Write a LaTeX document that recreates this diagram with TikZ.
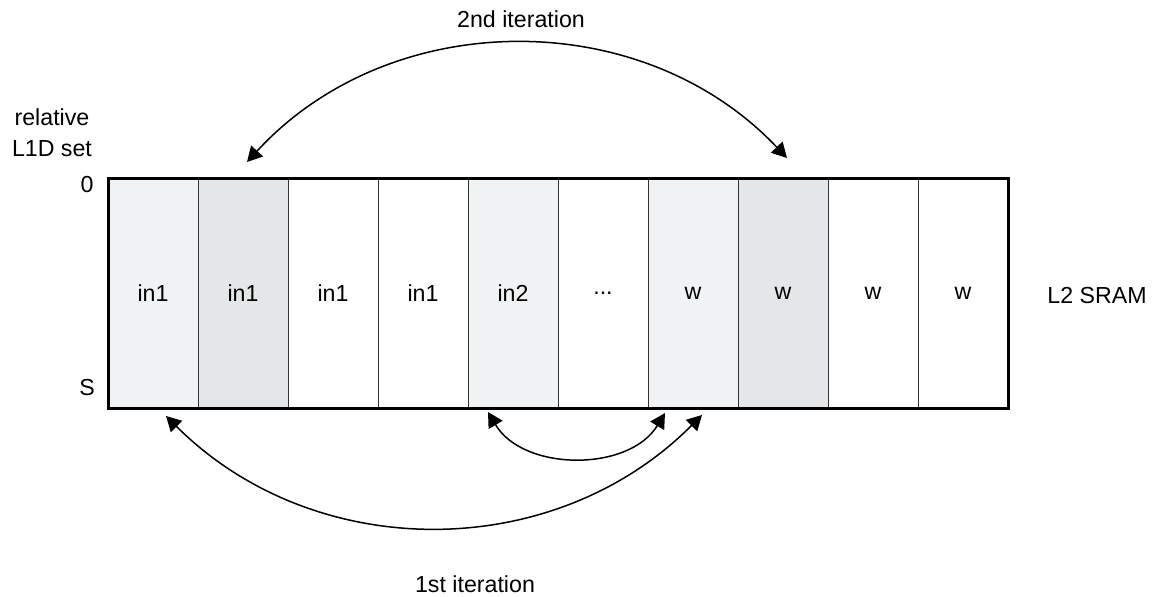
\documentclass[tikz,border=0pt]{standalone}
\usepackage{fontspec}
\setmainfont{Liberation Sans}
\usetikzlibrary{positioning, arrows.meta}

\definecolor{paleway}{HTML}{F1F2F3}
\definecolor{greyway}{HTML}{E5E6E7}

\begin{document}
\begin{tikzpicture}[x=0.5pt, y=0.5pt, node distance=0pt,
		every node/.style={font=\fontsize{11.6}{15.5}\selectfont},
		way/.style={draw=black!80, line width=0.5pt, outer sep=0pt, inner sep=0pt, minimum width=45pt, minimum height=115pt},
		>={Triangle[length=7.5pt, width=8pt]}]
		\useasboundingbox (0,0) rectangle (1153,596);
		\node[way,fill=paleway] (1) at (153,303) {in1};
		\node[way,fill=greyway] (2) [right=of 1] {in1};
		\node[way] (3) [right=of 2] {in1};
		\node[way] (4) [right=of 3] {in1};
		\node[way,fill=paleway] (5) [right=of 4] {in2};
		\node[way] (6) [right=of 5] {...};
		\node[way,fill=paleway] (7) [right=of 6] {w};
		\node[way,fill=greyway] (8) [right=of 7] {w};
		\node[way] (9) [right=of 8] {w};
		\node[way] (10) [right=of 9] {w};
		\draw[line width=1.5pt] (1.north west) rectangle (10.south east);
		
		\node[align=center] (set) at (52,463) {relative\\L1D set};
		\node (zero) at (87,411) {0};
		\node (s) at (87,208) {S};
		\node (sram) at (1097,300) {L2 SRAM};
		\node (second) at (521,577) {2nd iteration};
		\node (first) at (475,12) {1st iteration};
		
		\coordinate (t1) at (247,434);
		\coordinate (t2) at (787,438);
		\coordinate (b1) at (166,180);
		\coordinate (b2) at (702,181);
		\coordinate (b3) at (488,184);
		\coordinate (b4) at (665,183);
		
		\path[<->, line width=0.75pt]
		(t1) edge [bend left=47] (t2)
		(b1) edge [bend right=45] (b2)
		(b3) edge [bend right=59] (b4);
	\end{tikzpicture}
\end{document}
